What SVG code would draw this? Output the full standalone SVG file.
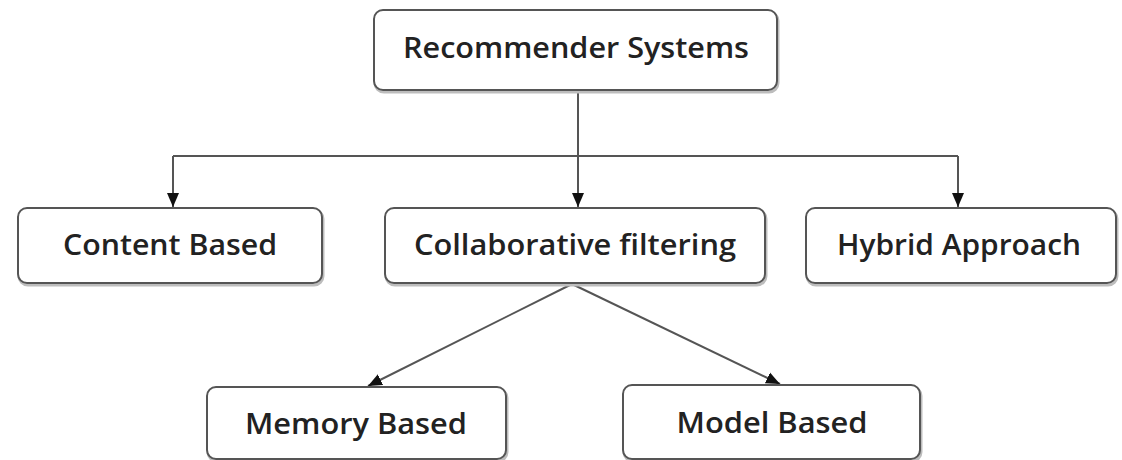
<svg xmlns="http://www.w3.org/2000/svg" width="1122" height="460" viewBox="0 0 1122 460">
<style>
.box{fill:#fff;stroke:#555;stroke-width:2}
.shadow{fill:none;stroke:#bdbdbd;stroke-width:3}
.lbl{font-family:"Open Sans","Liberation Sans",sans-serif;font-weight:600;font-size:28px;fill:#222;text-anchor:middle}
.con{fill:none;stroke:#555;stroke-width:2}
</style>
<defs>
<marker id="ah" markerUnits="userSpaceOnUse" markerWidth="14" markerHeight="14" viewBox="0 0 14 14" refX="14" refY="7" orient="auto">
<path d="M0,1 L14,7 L0,13 Z" fill="#111"/>
</marker>
</defs>
<g id="connectors">
<line class="con" x1="578" y1="90" x2="578" y2="156"/>
<line class="con" x1="173" y1="156" x2="958" y2="156"/>
<line class="con" x1="173" y1="156" x2="173" y2="207" marker-end="url(#ah)"/>
<line class="con" x1="578" y1="156" x2="578" y2="207" marker-end="url(#ah)"/>
<line class="con" x1="958" y1="156" x2="958" y2="207" marker-end="url(#ah)"/>
<line class="con" x1="572" y1="284" x2="368" y2="386" marker-end="url(#ah)"/>
<line class="con" x1="572" y1="284" x2="780" y2="384" marker-end="url(#ah)"/>
</g>
<g id="recommender-systems">
<rect class="shadow" x="375" y="12" width="403" height="80" rx="9"/>
<rect class="box" x="374" y="10" width="403" height="80" rx="9"/>
<text class="lbl" x="576" y="58" textLength="346" lengthAdjust="spacingAndGlyphs">Recommender Systems</text>
</g>
<g id="content-based">
<rect class="shadow" x="19" y="210" width="304" height="75" rx="9"/>
<rect class="box" x="18" y="208" width="304" height="75" rx="9"/>
<text class="lbl" x="170" y="255" textLength="214" lengthAdjust="spacingAndGlyphs">Content Based</text>
</g>
<g id="collaborative-filtering">
<rect class="shadow" x="386" y="210" width="380" height="75" rx="9"/>
<rect class="box" x="385" y="208" width="380" height="75" rx="9"/>
<text class="lbl" x="575" y="255" textLength="322" lengthAdjust="spacingAndGlyphs">Collaborative filtering</text>
</g>
<g id="hybrid-approach">
<rect class="shadow" x="807" y="210" width="310" height="75" rx="9"/>
<rect class="box" x="806" y="208" width="310" height="75" rx="9"/>
<text class="lbl" x="959" y="255" textLength="244" lengthAdjust="spacingAndGlyphs">Hybrid Approach</text>
</g>
<g id="memory-based">
<rect class="shadow" x="208" y="389" width="299" height="72" rx="9"/>
<rect class="box" x="207" y="387" width="299" height="72" rx="9"/>
<text class="lbl" x="356" y="434" textLength="222" lengthAdjust="spacingAndGlyphs">Memory Based</text>
</g>
<g id="model-based">
<rect class="shadow" x="624" y="387" width="297" height="74" rx="9"/>
<rect class="box" x="623" y="385" width="297" height="74" rx="9"/>
<text class="lbl" x="772" y="433" textLength="191" lengthAdjust="spacingAndGlyphs">Model Based</text>
</g>
</svg>
